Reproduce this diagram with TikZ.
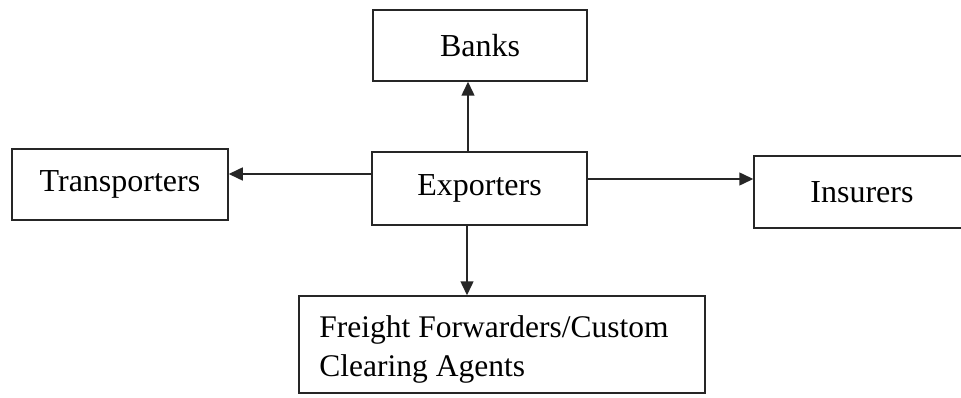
\documentclass[tikz,border=0pt]{standalone}
\usepackage{fontspec}
\setmainfont{Liberation Serif}
\usetikzlibrary{arrows.meta}
\begin{document}
\begin{tikzpicture}[x=1pt,y=1pt,
  box/.style={draw=black!85, line width=1.5pt, inner sep=0pt, align=center,
    font=\fontsize{32}{39}\selectfont},
  txt/.style={inner sep=0pt, align=left, font=\fontsize{31.5}{39}\selectfont},
  arr/.style={draw=black!85, line width=1.5pt, -{Triangle[length=14pt,width=13pt]}}]
\useasboundingbox (0,0) rectangle (961,-398);
\clip (0,0) rectangle (961,-398);
\fill[white] (0,0) rectangle (961,-398);
\node[box, minimum width=214pt, minimum height=71pt] (banks) at (480,-45.5) {Banks};
\node[box, minimum width=215pt, minimum height=73pt] (exp) at (479.5,-188.5) {Exporters};
\node[box, minimum width=216pt, minimum height=71pt] (trans) at (120,-184.5) {Transporters};
\node[box, minimum width=216pt, minimum height=72pt] (ins) at (862,-192) {Insurers};
\node[box, minimum width=406pt, minimum height=97pt] (frt) at (502,-344.5) {};
\node[txt, anchor=north west] (frtlabel) at ([xshift=21pt,yshift=-20pt]frt.north west) {Freight Forwarders/Custom\\Clearing Agents};
\draw[arr] ([xshift=-11.5pt]exp.north) -- ([xshift=-11.5pt]exp.north |- banks.south);
\draw[arr] ([yshift=14.5pt]exp.west) -- ([yshift=14.5pt]exp.west -| trans.east);
\draw[arr] ([yshift=9.5pt]exp.east) -- ([yshift=9.5pt]exp.east -| ins.west);
\draw[arr] ([xshift=-12.5pt]exp.south) -- ([xshift=-12.5pt]exp.south |- frt.north);
\end{tikzpicture}
\end{document}
